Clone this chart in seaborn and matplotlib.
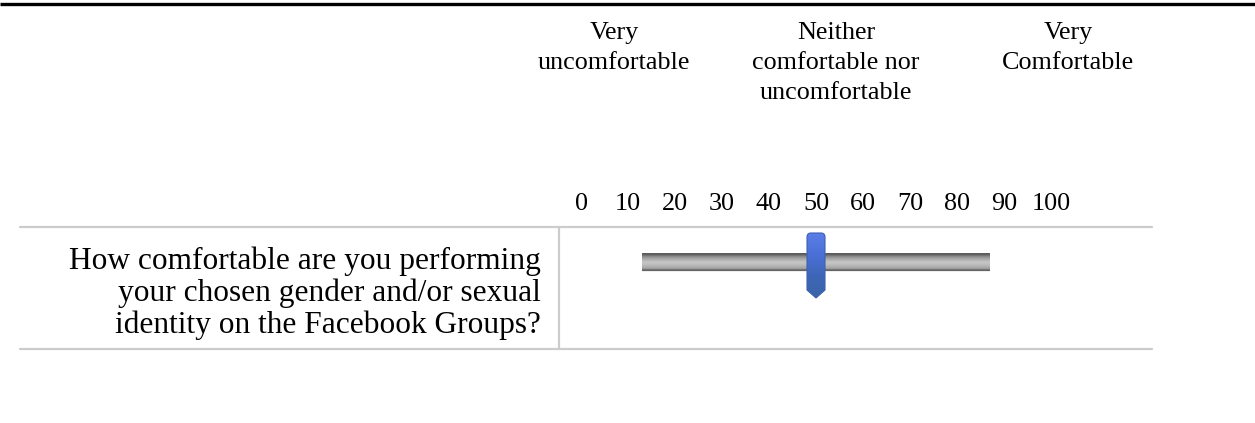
import numpy as np
import matplotlib
matplotlib.use("Agg")
import matplotlib.pyplot as plt
import seaborn as sns
from matplotlib.patches import PathPatch
from matplotlib.path import Path
from matplotlib.colors import LinearSegmentedColormap

# Survey slider data
question = "How comfortable are you performing\nyour chosen gender and/or sexual\nidentity on the Facebook Groups?"
scale_ticks = [0, 10, 20, 30, 40, 50, 60, 70, 80, 90, 100]
anchor_labels = ["Very\nuncomfortable", "Neither\ncomfortable nor\nuncomfortable", "Very\nComfortable"]
slider_value = [50]
track_range = [13, 87]

sns.set_theme(style="white")
plt.rcParams["font.family"] = ["Liberation Serif", "DejaVu Serif"]
plt.rcParams["text.color"] = "black"
FS = 18.8

W, H = 1255, 423
fig = plt.figure(figsize=(W / 100, H / 100), dpi=100)

# background axes in pixel coordinates for the table layout
bg = fig.add_axes([0, 0, 1, 1])
bg.set_xlim(0, W)
bg.set_ylim(H, 0)
bg.axis("off")

bg.plot([0, W], [4.5, 4.5], color="black", lw=2.4, solid_capstyle="butt")
bg.plot([20, 1152], [227, 227], color="#cccccc", lw=1.6)
bg.plot([20, 1152], [349, 349], color="#cccccc", lw=1.6)
bg.plot([559, 559], [227, 349], color="#cccccc", lw=1.6)

bg.text(541, 293, question, ha="right", va="center", fontsize=22.6,
        linespacing=1.1, multialignment="right")

anchor_x = [614, 836, 1068]
for x, lab in zip(anchor_x, anchor_labels):
    bg.text(x, 22, lab, ha="center", va="top", fontsize=FS, linespacing=1.46)

# slider axes: x is the 0-100 scale, y in pixels
ax = fig.add_axes([581 / W, 0, (1051 - 581) / W, 1])
ax.set_xlim(0, 100)
ax.set_ylim(H, 0)
ax.axis("off")
ax.patch.set_alpha(0)

for t in scale_ticks:
    ax.text(t, 204, str(t), ha="center", va="center", fontsize=FS)

# track with vertical gray gradient
grad = np.array([0.36, 0.38, 0.46, 0.54, 0.60, 0.64, 0.68, 0.72, 0.75, 0.77,
                 0.76, 0.74, 0.72, 0.69, 0.66, 0.62, 0.45, 0.40, 0.93])
ax.imshow(grad.reshape(-1, 1), cmap="gray", vmin=0, vmax=1, aspect="auto",
          extent=[track_range[0], track_range[1], 272, 253], interpolation="bilinear",
          zorder=2)

# knob: rounded top, pointed bottom, blue vertical gradient
px = 100 / (1051 - 581)
kw = 18 * px
r = 4 * px
knob_cmap = LinearSegmentedColormap.from_list("knob", ["#5c7ce8", "#4a70d6", "#3d66b8", "#3a64a6"])
for v in slider_value:
    l, rt = v - kw / 2, v + kw / 2
    verts = [(l, 290), (l, 237), (l, 233), (l + r, 233), (rt - r, 233), (rt, 233),
             (rt, 237), (rt, 290), (v, 298), (l, 290)]
    codes = [Path.MOVETO, Path.LINETO, Path.CURVE3, Path.CURVE3, Path.LINETO,
             Path.CURVE3, Path.CURVE3, Path.LINETO, Path.LINETO, Path.CLOSEPOLY]
    knob = PathPatch(Path(verts, codes), facecolor="none", edgecolor="#3d62b0",
                     lw=0.8, zorder=4)
    ax.add_patch(knob)
    im = ax.imshow(np.linspace(0, 1, 40).reshape(-1, 1), cmap=knob_cmap,
                   aspect="auto", extent=[l, rt, 298, 233], zorder=3,
                   interpolation="bilinear")
    im.set_clip_path(knob)

fig.savefig("out.png", dpi=100)
